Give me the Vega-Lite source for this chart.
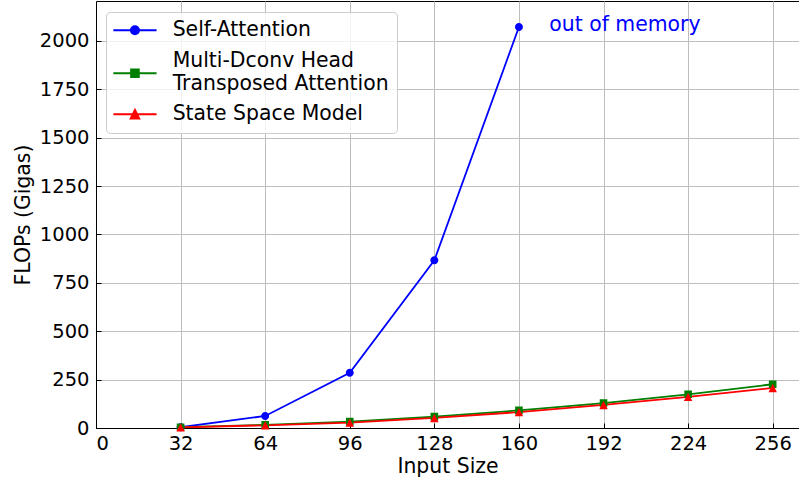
{
  "$schema": "https://vega.github.io/schema/vega-lite/v6.json",
  "autosize": "none",
  "width": 703,
  "height": 427,
  "padding": {"left": 96, "top": 1, "right": 0, "bottom": 52},
  "config": {
    "font": "DejaVu Sans",
    "view": {"stroke": "black", "strokeWidth": 1},
    "axis": {
      "grid": true,
      "gridColor": "#bdbdbd",
      "gridWidth": 1,
      "domainColor": "black",
      "tickColor": "black",
      "tickSize": -5,
      "labelColor": "black",
      "labelFontSize": 19.5,
      "labelFont": "DejaVu Sans",
      "titleFont": "DejaVu Sans",
      "titleFontSize": 20.4,
      "titleFontWeight": "normal",
      "titleColor": "black"
    },
    "legend": {
      "labelFontSize": 20.4,
      "labelFont": "DejaVu Sans",
      "labelColor": "black"
    }
  },
  "datasets": {
    "flops": [
      {"size": 32, "flops": 4, "series": "Self-Attention"},
      {"size": 64, "flops": 62, "series": "Self-Attention"},
      {"size": 96, "flops": 285, "series": "Self-Attention"},
      {"size": 128, "flops": 866, "series": "Self-Attention"},
      {"size": 160, "flops": 2072, "series": "Self-Attention"},
      {"size": 32, "flops": 4, "series": "Multi-Dconv Head Transposed Attention"},
      {"size": 64, "flops": 16, "series": "Multi-Dconv Head Transposed Attention"},
      {"size": 96, "flops": 33, "series": "Multi-Dconv Head Transposed Attention"},
      {"size": 128, "flops": 59, "series": "Multi-Dconv Head Transposed Attention"},
      {"size": 160, "flops": 91, "series": "Multi-Dconv Head Transposed Attention"},
      {"size": 192, "flops": 129, "series": "Multi-Dconv Head Transposed Attention"},
      {"size": 224, "flops": 174, "series": "Multi-Dconv Head Transposed Attention"},
      {"size": 256, "flops": 226, "series": "Multi-Dconv Head Transposed Attention"},
      {"size": 32, "flops": 3, "series": "State Space Model"},
      {"size": 64, "flops": 14, "series": "State Space Model"},
      {"size": 96, "flops": 28, "series": "State Space Model"},
      {"size": 128, "flops": 52, "series": "State Space Model"},
      {"size": 160, "flops": 82, "series": "State Space Model"},
      {"size": 192, "flops": 119, "series": "State Space Model"},
      {"size": 224, "flops": 161, "series": "State Space Model"},
      {"size": 256, "flops": 207, "series": "State Space Model"}
    ],
    "notes": [
      {"size": 171.5, "flops": 2080, "label": "out of memory"}
    ]
  },
  "layer": [
    {
      "data": {"name": "flops"},
      "mark": {"type": "line", "strokeWidth": 1.8, "clip": true},
      "encoding": {
        "x": {
          "field": "size", "type": "quantitative",
          "scale": {"domain": [0, 265.95], "nice": false, "zero": false},
          "axis": {"values": [0, 32, 64, 96, 128, 160, 192, 224, 256], "title": "Input Size", "labelPadding": 11, "titlePadding": 4}
        },
        "y": {
          "field": "flops", "type": "quantitative",
          "scale": {"domain": [0, 2206], "nice": false},
          "axis": {"values": [0, 250, 500, 750, 1000, 1250, 1500, 1750, 2000], "format": "d", "title": "FLOPs (Gigas)", "labelPadding": 12, "titlePadding": 6}
        },
        "stroke": {
          "field": "series", "type": "nominal",
          "scale": {"domain": ["State Space Model", "Multi-Dconv Head Transposed Attention", "Self-Attention"], "range": ["#ff0000", "#008000", "#0000ff"]},
          "legend": null
        }
      }
    },
    {
      "data": {"name": "flops"},
      "mark": {"type": "point", "filled": true, "size": 64, "strokeWidth": 0, "opacity": 1},
      "encoding": {
        "x": {"field": "size", "type": "quantitative"},
        "y": {"field": "flops", "type": "quantitative"},
        "color": {
          "field": "series", "type": "nominal",
          "scale": {"domain": ["Self-Attention", "Multi-Dconv Head Transposed Attention", "State Space Model"], "range": ["#0000ff", "#008000", "#ff0000"]},
          "legend": {
            "title": null,
            "orient": "none",
            "legendX": 10,
            "legendY": 11,
            "padding": 8,
            "cornerRadius": 4,
            "fillColor": "rgba(255,255,255,0.8)",
            "strokeColor": "#cccccc",
            "symbolSize": 64,
            "symbolOffset": 10.75,
            "labelOffset": 27.5,
            "rowPadding": 10,
            "labelLimit": 400,
            "labelExpr": "datum.label == 'Multi-Dconv Head Transposed Attention' ? ['Multi-Dconv Head', 'Transposed Attention'] : datum.label",
            "encoding": {
              "symbols": {
                "stroke": {"value": {"expr": "scale('color', datum.value)"}},
                "strokeWidth": {"value": 2},
                "opacity": {"value": 1},
                "size": {"value": 64}
              },
              "labels": {
                "dy": {"value": {"expr": "datum.value == 'Multi-Dconv Head Transposed Attention' ? -12 : 0"}}
              }
            }
          }
        },
        "shape": {
          "field": "series", "type": "nominal",
          "scale": {
            "domain": ["Self-Attention", "Multi-Dconv Head Transposed Attention", "State Space Model"],
            "range": [
              "M-5.4,0H5.4M-1,0A1,1 0 1,0 1,0A1,1 0 1,0 -1,0Z",
              "M-5.4,0H5.4M-0.95,-0.95H0.95V0.95H-0.95Z",
              "M-5.4,0H5.4M0,-1.05L1.05,1.05H-1.05Z"
            ]
          },
          "legend": {
            "title": null,
            "orient": "none",
            "legendX": 10,
            "legendY": 11,
            "padding": 8,
            "cornerRadius": 4,
            "fillColor": "rgba(255,255,255,0.8)",
            "strokeColor": "#cccccc",
            "symbolSize": 64,
            "symbolOffset": 10.75,
            "labelOffset": 27.5,
            "rowPadding": 10,
            "labelLimit": 400,
            "labelExpr": "datum.label == 'Multi-Dconv Head Transposed Attention' ? ['Multi-Dconv Head', 'Transposed Attention'] : datum.label",
            "encoding": {
              "symbols": {
                "stroke": {"value": {"expr": "scale('color', datum.value)"}},
                "strokeWidth": {"value": 2},
                "opacity": {"value": 1},
                "size": {"value": 64}
              },
              "labels": {
                "dy": {"value": {"expr": "datum.value == 'Multi-Dconv Head Transposed Attention' ? -12 : 0"}}
              }
            }
          }
        }
      }
    },
    {
      "data": {"name": "notes"},
      "mark": {"type": "text", "align": "left", "baseline": "middle", "fontSize": 20.4, "font": "DejaVu Sans", "color": "#0000ff"},
      "encoding": {
        "x": {"field": "size", "type": "quantitative"},
        "y": {"field": "flops", "type": "quantitative"},
        "text": {"field": "label"}
      }
    }
  ]
}
